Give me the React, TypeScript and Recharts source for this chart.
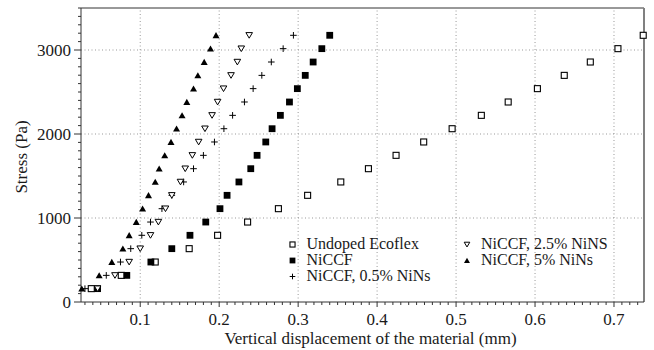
import { Legend, ReferenceLine, Scatter, ScatterChart, XAxis, YAxis } from "recharts";

// stress levels shared by every sample (Pa)
const stress = [159, 317, 476, 635, 794, 952, 1111, 1270, 1429, 1587, 1746, 1905, 2063, 2222, 2381, 2540, 2698, 2857, 3016, 3175];

// vertical displacement (mm) at each stress level
const undoped = [0.038, 0.076, 0.119, 0.162, 0.198, 0.236, 0.275, 0.312, 0.354, 0.389, 0.424, 0.459, 0.495, 0.532, 0.566, 0.603, 0.637, 0.67, 0.705, 0.737];
const niccf = [0.046, 0.083, 0.1135, 0.14, 0.163, 0.183, 0.201, 0.21, 0.225, 0.24, 0.248, 0.259, 0.267, 0.2775, 0.289, 0.299, 0.309, 0.319, 0.33, 0.34];
const niccf05 = [0.03, 0.057, 0.075, 0.088, 0.102, 0.113, 0.1275, 0.14, 0.155, 0.1675, 0.18, 0.194, 0.206, 0.217, 0.232, 0.243, 0.254, 0.266, 0.281, 0.294];
const niccf25 = [0.046, 0.068, 0.086, 0.1, 0.113, 0.123, 0.132, 0.14, 0.151, 0.157, 0.166, 0.174, 0.182, 0.191, 0.198, 0.2055, 0.215, 0.223, 0.228, 0.238];
const niccf5 = [0.026, 0.048, 0.064, 0.078, 0.086, 0.095, 0.103, 0.1105, 0.119, 0.124, 0.131, 0.139, 0.146, 0.153, 0.159, 0.1675, 0.173, 0.181, 0.189, 0.196];

const seriesNames = ["Undoped Ecoflex", "NiCCF", "NiCCF, 0.5% NiNs", "NiCCF, 2.5% NiNS", "NiCCF, 5% NiNs"];

const xMajorTicks = [0.1, 0.2, 0.3, 0.4, 0.5, 0.6, 0.7];
const yMajorTicks = [0, 1000, 2000, 3000];
const xDomain: [number, number] = [0.025, 0.738];
const yDomain: [number, number] = [0, 3500];

// minor ticks every 0.01 mm and every 100 Pa
const xTicks: number[] = [];
for (let i = 3; i <= 73; i++) xTicks.push(i / 100);
const yTicks: number[] = [];
for (let v = 0; v <= 3500; v += 100) yTicks.push(v);

const FONT = "'Liberation Serif', 'Times New Roman', serif";
const TEXT = "#1a1a1a";
const AXIS = "#333";
const GRID = "#999";

type Kind = "openSquare" | "square" | "plus" | "downTri" | "upTri";
const kinds: Kind[] = ["openSquare", "square", "plus", "downTri", "upTri"];

function Marker({ kind, cx, cy, s = 1 }: { kind: Kind; cx: number; cy: number; s?: number }) {
  switch (kind) {
    case "openSquare":
      return <rect x={cx - 3 * s} y={cy - 3 * s} width={6 * s} height={6 * s} fill="#fff" stroke="#000" strokeWidth={1.1} />;
    case "square":
      return <rect x={cx - 3.4 * s} y={cy - 3.4 * s} width={6.8 * s} height={6.8 * s} fill="#000" />;
    case "plus":
      return (
        <path
          d={`M${cx - 3.3 * s},${cy}H${cx + 3.3 * s}M${cx},${cy - 3.3 * s}V${cy + 3.3 * s}`}
          stroke="#000"
          strokeWidth={1}
          fill="none"
        />
      );
    case "downTri":
      return (
        <polygon
          points={`${cx - 3.3 * s},${cy - 2.7 * s} ${cx + 3.3 * s},${cy - 2.7 * s} ${cx},${cy + 2.9 * s}`}
          fill="#fff"
          stroke="#000"
          strokeWidth={1}
        />
      );
    default:
      return (
        <polygon
          points={`${cx - 3.5 * s},${cy + 2.9 * s} ${cx + 3.5 * s},${cy + 2.9 * s} ${cx},${cy - 3.2 * s}`}
          fill="#000"
        />
      );
  }
}

function XTick({ x, y, payload }: any) {
  const v = payload.value as number;
  const major = xMajorTicks.some((t) => Math.abs(t - v) < 1e-6);
  return (
    <g>
      <line x1={x} x2={x} y1={y} y2={y + (major ? 5 : 3)} stroke={AXIS} />
      {major && (
        <text x={x} y={y + 23} textAnchor="middle" fontFamily={FONT} fontSize={17} fill={TEXT}>
          {v.toFixed(1)}
        </text>
      )}
    </g>
  );
}

function YTick({ x, y, payload }: any) {
  const v = payload.value as number;
  const major = yMajorTicks.includes(v);
  return (
    <g>
      <line x1={x} x2={x - (major ? 7 : 3)} y1={y} y2={y} stroke={AXIS} />
      {major && (
        <text x={x - 10} y={y + 6} textAnchor="end" fontFamily={FONT} fontSize={17} fill={TEXT}>
          {v}
        </text>
      )}
    </g>
  );
}

function LegendBox() {
  const rows = [
    { col: 0, row: 0 },
    { col: 0, row: 1 },
    { col: 0, row: 2 },
    { col: 1, row: 0 },
    { col: 1, row: 1 },
  ];
  return (
    <svg width={340} height={52} style={{ display: "block" }}>
      {seriesNames.map((name, i) => {
        const { col, row } = rows[i];
        const sx = col === 0 ? 8.5 : 183;
        const base = 13 + row * 16;
        return (
          <g key={name}>
            <Marker kind={kinds[i]} cx={sx} cy={base - 4.5} s={0.85} />
            <text x={sx + 14} y={base} fontFamily={FONT} fontSize={16} fill={TEXT}>
              {name}
            </text>
          </g>
        );
      })}
    </svg>
  );
}

const allSeries = [undoped, niccf, niccf05, niccf25, niccf5];

export default function App() {
  return (
    <div style={{ position: "absolute", left: 0, top: 0, width: 654, height: 350, background: "#fff" }}>
      <ScatterChart width={654} height={350} margin={{ top: 8, right: 10, bottom: 0, left: 0 }}>
        <XAxis
          type="number"
          dataKey="x"
          domain={xDomain}
          ticks={xTicks}
          interval={0}
          tickSize={0}
          tickMargin={0}
          tickLine={false}
          height={48}
          axisLine={{ stroke: AXIS }}
          tick={<XTick />}
          label={(p: any) => {
            const vb = p.viewBox;
            return (
              <text x={vb.x + vb.width / 2 + 8} y={vb.y + 42} textAnchor="middle" fontFamily={FONT} fontSize={17} fill={TEXT}>
                Vertical displacement of the material (mm)
              </text>
            );
          }}
        />
        <YAxis
          type="number"
          dataKey="y"
          domain={yDomain}
          ticks={yTicks}
          interval={0}
          tickSize={0}
          tickMargin={0}
          tickLine={false}
          width={81}
          axisLine={{ stroke: AXIS }}
          tick={<YTick />}
          label={(p: any) => {
            const vb = p.viewBox;
            const cy = vb.y + vb.height / 2 + 2;
            return (
              <text x={27} y={cy} transform={`rotate(-90, 27, ${cy})`} textAnchor="middle" fontFamily={FONT} fontSize={17} fill={TEXT}>
                Stress (Pa)
              </text>
            );
          }}
        />
        {xMajorTicks.map((t) => (
          <ReferenceLine key={`gx${t}`} x={t} stroke={GRID} strokeDasharray="1 2.5" />
        ))}
        {yMajorTicks.slice(1).map((t) => (
          <ReferenceLine key={`gy${t}`} y={t} stroke={GRID} strokeDasharray="1 2.5" />
        ))}
        <ReferenceLine y={yDomain[1]} stroke={AXIS} />
        <ReferenceLine x={xDomain[1]} stroke="#808080" strokeWidth={2} />
        {allSeries.map((arr, i) => (
          <Scatter
            key={seriesNames[i]}
            name={seriesNames[i]}
            data={stress.map((s, j) => ({ x: arr[j], y: s }))}
            isAnimationActive={false}
            shape={(p: any) => <Marker kind={kinds[i]} cx={p.cx} cy={p.cy} />}
          />
        ))}
        <Legend
          layout="horizontal"
          verticalAlign="middle"
          align="center"
          wrapperStyle={{ left: 284, top: 236, width: 340, height: 52 }}
          content={() => <LegendBox />}
        />
      </ScatterChart>
    </div>
  );
}
